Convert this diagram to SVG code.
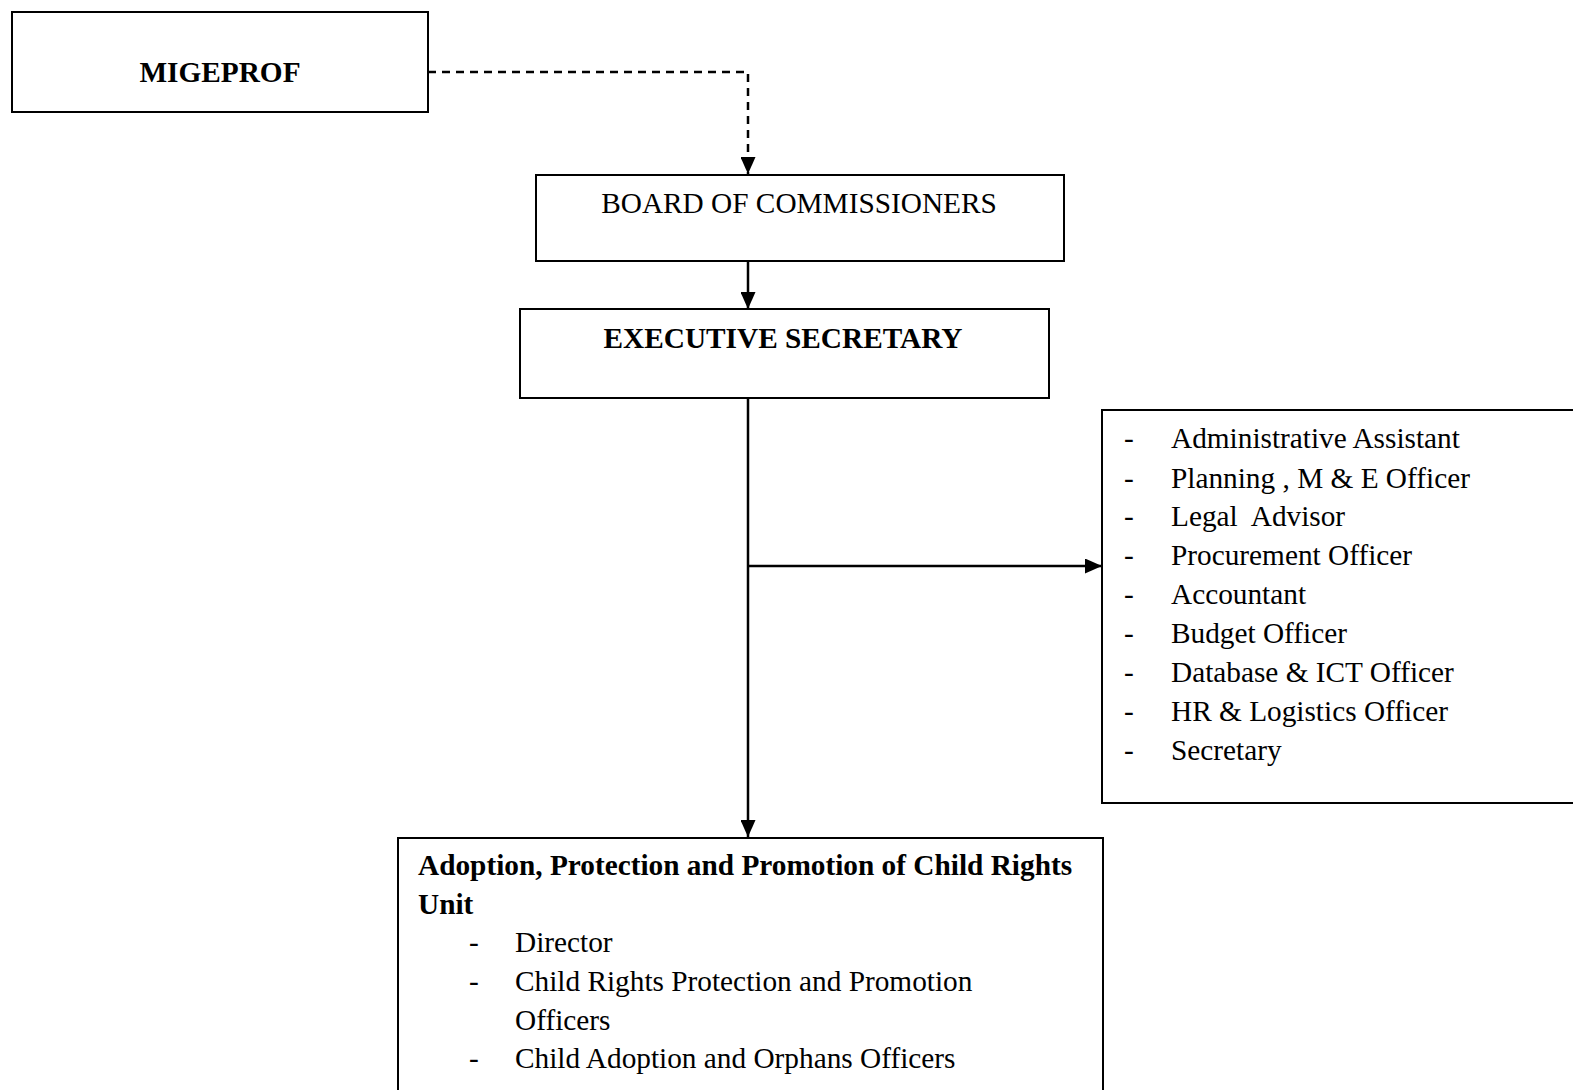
<svg xmlns="http://www.w3.org/2000/svg" width="1573" height="1090" viewBox="0 0 1573 1090">
<style>
.box{fill:#fff;stroke:#000;stroke-width:2}
.t{font-family:"Liberation Serif","Times New Roman",serif;font-size:29.3px;fill:#000}
.b{font-weight:bold}
.c{stroke:#000;stroke-width:2.5;fill:none}
</style>
<defs>
<marker id="arr" markerWidth="17" markerHeight="15" refX="17" refY="7.5" orient="auto" markerUnits="userSpaceOnUse">
<path d="M0,0 L17,7.5 L0,15 z" fill="#000"/>
</marker>
</defs>
<g id="connectors">
<path class="c" d="M428,72 H748 V174" stroke-dasharray="8,6" marker-end="url(#arr)"/>
<path class="c" d="M748,261 V309" marker-end="url(#arr)"/>
<path class="c" d="M748,392 V837" marker-end="url(#arr)"/>
<path class="c" d="M748,566 H1102" marker-end="url(#arr)"/>
</g>
<g id="migeprof">
<rect class="box" x="12" y="12" width="416" height="100"/>
<text class="t b" x="220" y="82" text-anchor="middle">MIGEPROF</text>
</g>
<g id="board">
<rect class="box" x="536" y="175" width="528" height="86"/>
<text class="t" x="799" y="213" text-anchor="middle">BOARD OF COMMISSIONERS</text>
</g>
<g id="executive">
<rect class="box" x="520" y="309" width="529" height="89"/>
<text class="t b" x="783" y="348" text-anchor="middle">EXECUTIVE SECRETARY</text>
</g>
<g id="support-staff">
<rect class="box" x="1102" y="410" width="480" height="393"/>
<g class="t">
<text x="1124" y="448">-</text><text x="1171" y="448">Administrative Assistant</text>
<text x="1124" y="488">-</text><text x="1171" y="488">Planning , M &amp; E Officer</text>
<text x="1124" y="526">-</text><text x="1171" y="526" xml:space="preserve">Legal  Advisor</text>
<text x="1124" y="565">-</text><text x="1171" y="565">Procurement Officer</text>
<text x="1124" y="604">-</text><text x="1171" y="604">Accountant</text>
<text x="1124" y="643">-</text><text x="1171" y="643">Budget Officer</text>
<text x="1124" y="682">-</text><text x="1171" y="682">Database &amp; ICT Officer</text>
<text x="1124" y="721">-</text><text x="1171" y="721">HR &amp; Logistics Officer</text>
<text x="1124" y="760">-</text><text x="1171" y="760">Secretary</text>
</g>
</g>
<g id="child-rights-unit">
<rect class="box" x="398" y="838" width="705" height="262"/>
<g class="t">
<text class="b" x="418" y="875">Adoption, Protection and Promotion of Child Rights</text>
<text class="b" x="418" y="914">Unit</text>
<text x="469" y="952">-</text><text x="515" y="952">Director</text>
<text x="469" y="991">-</text><text x="515" y="991">Child Rights Protection and Promotion</text>
<text x="515" y="1030">Officers</text>
<text x="469" y="1068">-</text><text x="515" y="1068">Child Adoption and Orphans Officers</text>
</g>
</g>
</svg>
